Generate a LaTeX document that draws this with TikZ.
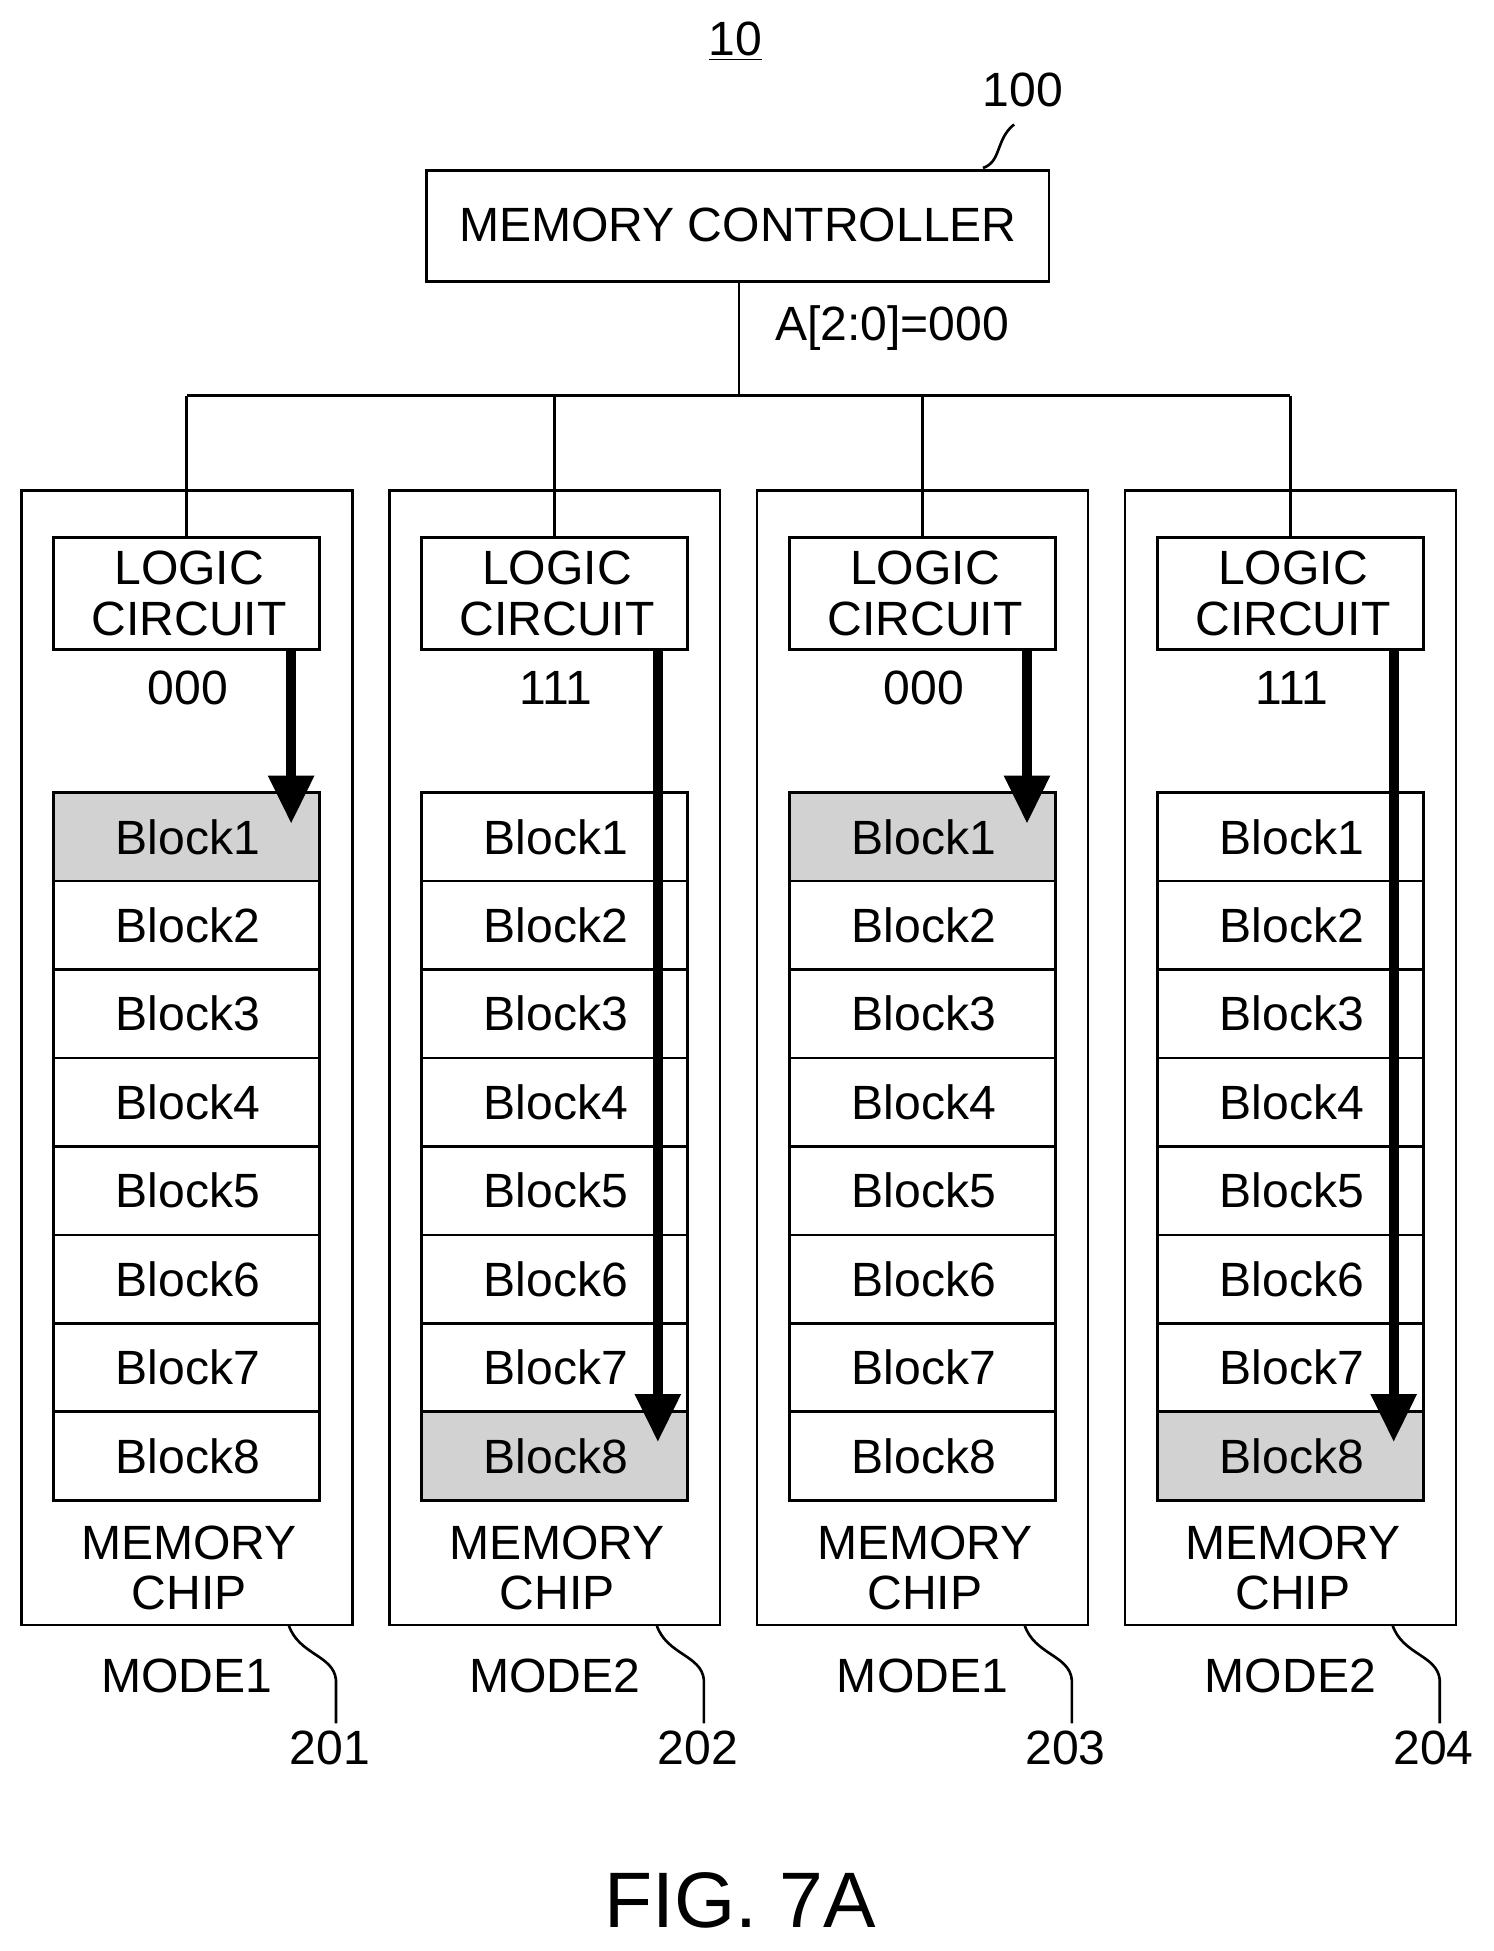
\documentclass[tikz,border=0pt]{standalone}
\usepackage{fontspec}
\setmainfont{Liberation Sans}
\usetikzlibrary{arrows.meta}
\begin{document}
\begin{tikzpicture}[x=0.02cm,y=-0.02cm,
  box/.style={draw,line width=1.3pt},
  txt/.style={font=\fontsize{22}{26}\selectfont},
  lbl/.style={font=\fontsize{22}{26}\selectfont, align=center},
  wire/.style={line width=1.2pt},
  big/.style={line width=4.5pt,-{Triangle[length=22pt,width=20pt]}},
  shade/.style={fill=gray!35}]
\useasboundingbox (0,0) rectangle (1200,1568);
\node[txt] (ten) at (591,33) {\underline{10}};
\node[txt] (n100) at (822,72) {100};
\draw[box] (343,137) rectangle (843,226);
\node[txt] (mc) at (593,181) {MEMORY CONTROLLER};
\draw[wire] (790,135) .. controls (805,130) and (800,112) .. (815,100);
\coordinate (top) at (594,226);
\coordinate (bus) at (594,318);
\draw[wire] (top) -- (bus);
\node[txt] (addr) at (717,264) {A[2:0]=000};
\draw[wire] (150,318) -- (1037,318);
\foreach \i/\code/\mode/\num/\sh in {0/000/MODE1/201/1,1/111/MODE2/202/8,2/000/MODE1/203/1,3/111/MODE2/204/8}{
  \begin{scope}[xshift={\i*295.7*0.02cm}]
    \draw[box] (17,394) rectangle (283,1306);
    \draw[wire] (150,318) -- (150,432);
    \draw[box] (43,432) rectangle (257,522);
    \node[lbl] (lc\i) at (152,477) {LOGIC\\[-3pt]CIRCUIT};
    \node[txt] (code\i) at (151,553) {\code};
    \foreach \b in {1,...,8}{
      \pgfmathsetmacro{\ya}{637+(\b-1)*71.1}
      \pgfmathsetmacro{\yb}{637+\b*71.1}
      \ifnum\b=\sh
        \draw[box,shade] (43,\ya) rectangle (257,\yb);
      \else
        \draw[box] (43,\ya) rectangle (257,\yb);
      \fi
      \node[txt] (b\i\b) at (151,{(\ya+\yb)/2}) {Block\b};
    }
    \ifnum\sh=1
      \draw[big] (234,522) -- (234,662);
    \else
      \draw[big] (529-296,522) -- (529-296,1159);
    \fi
    \node[lbl] (mem\i) at (152,1260) {MEMORY\\[-3pt]CHIP};
    \node[txt] (mode\i) at (150,1347) {\mode};
    \draw[wire] (232,1306) .. controls (240,1330) and (268,1330) .. (270,1350) -- (270,1385);
    \node[txt] (num\i) at (265,1405) {\num};
  \end{scope}
}
\node[font=\fontsize{36}{40}\selectfont] (fig) at (595,1527) {FIG. 7A};
\end{tikzpicture}
\end{document}
